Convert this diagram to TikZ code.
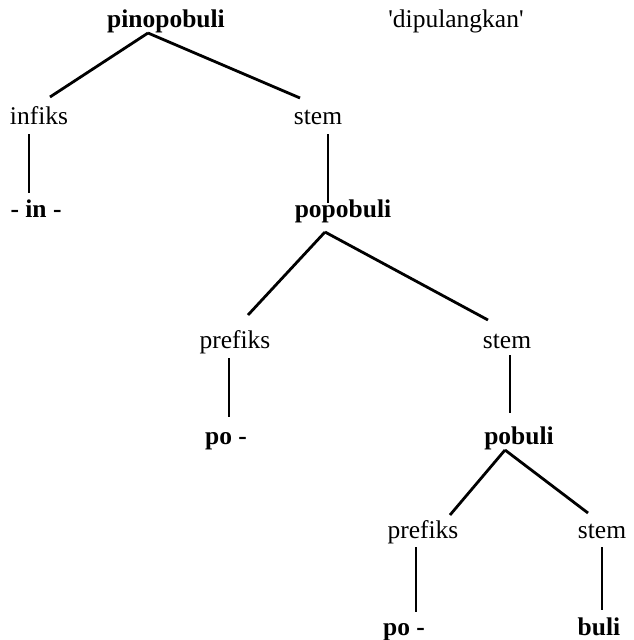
\documentclass[tikz,border=0pt]{standalone}
\usepackage{fontspec}
\setmainfont{Liberation Serif}
\usetikzlibrary{calc}
\begin{document}
\begin{tikzpicture}[x=1pt,y=-1pt,
  lbl/.style={inner sep=0pt,anchor=base,font=\fontsize{25.5}{30}\selectfont},
  blbl/.style={lbl,font=\fontsize{25.5}{30}\selectfont\bfseries},
  diag/.style={line width=2.8pt},
  vert/.style={line width=1.6pt}]
\useasboundingbox (0,0) rectangle (633,640);
% nodes
\node[blbl] (pin) at (166,27) {pinopobuli};
\node[lbl] (dip) at (456,27) {\textquotesingle dipulangkan\textquotesingle};
\node[lbl] (inf) at (39,124) {infiks};
\node[lbl] (st1) at (318,124) {stem};
\node[blbl] (in) at (36,217) {- in -};
\node[blbl] (pop) at (343,217) {popobuli};
\node[lbl] (pre1) at (235,348) {prefiks};
\node[lbl] (st2) at (507,348) {stem};
\node[blbl] (po1) at (226,444) {po -};
\node[blbl] (pob) at (519,444) {pobuli};
\node[lbl] (pre2) at (423,538) {prefiks};
\node[lbl] (st3) at (602,538) {stem};
\node[blbl] (po2) at (404,635) {po -};
\node[blbl] (buli) at (599,635) {buli};
% connectors
\draw[diag] ($(pin.base)+(-18,6)$) -- ($(inf.base)+(11,-27)$);
\draw[diag] ($(pin.base)+(-18,6)$) -- ($(st1.base)+(-18,-26)$);
\draw[vert] ($(inf.base)+(-10,10)$) -- ($(in.base)+(-7,-24)$);
\draw[vert] ($(st1.base)+(10,10)$) -- ($(pop.base)+(-15,-14)$);
\draw[diag] ($(pop.base)+(-18,15)$) -- ($(pre1.base)+(13,-33)$);
\draw[diag] ($(pop.base)+(-18,15)$) -- ($(st2.base)+(-19,-28)$);
\draw[vert] ($(pre1.base)+(-6,10)$) -- ($(po1.base)+(3,-27)$);
\draw[vert] ($(st2.base)+(3,7)$) -- ($(pob.base)+(-9,-31)$);
\draw[diag] ($(pob.base)+(-14,6)$) -- ($(pre2.base)+(27,-23)$);
\draw[diag] ($(pob.base)+(-14,6)$) -- ($(st3.base)+(-14,-25)$);
\draw[vert] ($(pre2.base)+(-7,9)$) -- ($(po2.base)+(12,-23)$);
\draw[vert] ($(st3.base)+(0,9)$) -- ($(buli.base)+(3,-25)$);
\end{tikzpicture}
\end{document}
